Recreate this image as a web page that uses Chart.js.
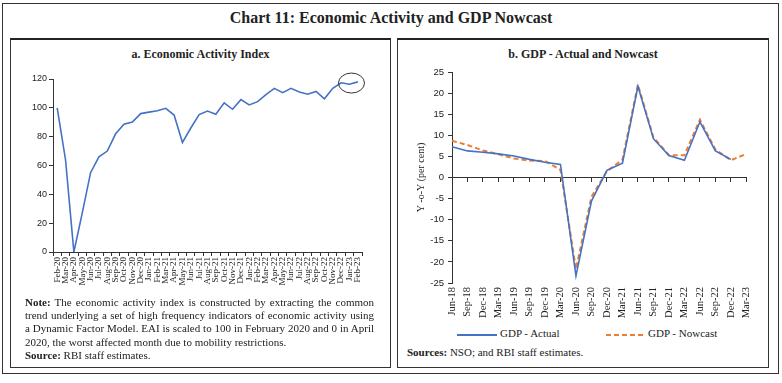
<!DOCTYPE html>
<html>
<head>
<meta charset="utf-8">
<script src="https://cdn.jsdelivr.net/npm/chart.js@4.4.1/dist/chart.umd.min.js"></script>
<style>
  body { margin: 0; background: #fff; }
  #wrap { position: relative; width: 782px; height: 383px; font-family: "Liberation Serif", serif; color: #222; }
  #frame { position: absolute; left: 2px; top: 3px; width: 775px; height: 369px; border: 1px solid #333; }
  #title { position: absolute; left: 0; top: 9px; width: 782px; text-align: center; font-weight: bold; font-size: 16px; }
  .panel { position: absolute; top: 38px; height: 327px; border: 1px solid #333; border-top: 2px solid #222; }
  .sub { position: absolute; left: 0; top: 7px; width: 100%; text-align: center; font-weight: bold; font-size: 12px; }
  canvas { position: absolute; }
  #note { position: absolute; left: 25px; top: 296px; width: 349px; font-size: 11px; line-height: 13.2px; text-align: justify; }
  #sources { position: absolute; left: 407px; top: 346px; font-size: 11px; }
  .leg { position: absolute; top: 327px; font-size: 11px; }
  .legline { position: absolute; height: 2px; top: 334px; }
</style>
</head>
<body>
<div id="wrap">
  <div id="frame"></div>
  <div id="title">Chart 11: Economic Activity and GDP Nowcast</div>
  <div class="panel" style="left:10px;width:379px;"><div class="sub">a. Economic Activity Index</div></div>
  <div class="panel" style="left:397px;width:370px;"><div class="sub">b. GDP - Actual and Nowcast</div></div>
  <canvas id="eaiChart" width="370" height="230" style="left:11px;top:70px;"></canvas>
  <canvas id="gdpChart" width="365" height="260" style="left:398px;top:62px;"></canvas>
  <div id="note"><b>Note:</b> The economic activity index is constructed by extracting the common trend underlying a set of high frequency indicators of economic activity using a Dynamic Factor Model. EAI is scaled to 100 in February 2020 and 0 in April 2020, the worst affected month due to mobility restrictions.<br><b>Source:</b> RBI staff estimates.</div>
  <div class="legline" id="legActual" style="left:457px;width:40px;"></div>
  <div class="leg" style="left:500px;">GDP - Actual</div>
  <div class="legline" id="legNowcast" style="left:606px;width:39px;"></div>
  <div class="leg" style="left:648px;">GDP - Nowcast</div>
  <div id="sources"><b>Sources:</b> NSO; and RBI staff estimates.</div>
</div>
<script>
// panel a: monthly economic activity index
const months = ['Feb-20', 'Mar-20', 'Apr-20', 'May-20', 'Jun-20', 'Jul-20', 'Aug-20', 'Sep-20', 'Oct-20', 'Nov-20', 'Dec-20',
  'Jan-21', 'Feb-21', 'Mar-21', 'Apr-21', 'May-21', 'Jun-21', 'Jul-21', 'Aug-21', 'Sep-21', 'Oct-21', 'Nov-21', 'Dec-21',
  'Jan-22', 'Feb-22', 'Mar-22', 'Apr-22', 'May-22', 'Jun-22', 'Jul-22', 'Aug-22', 'Sep-22', 'Oct-22', 'Nov-22', 'Dec-22',
  'Jan-23', 'Feb-23'];
const eaiValues = [100, 64, 0, 27, 55, 66, 70, 82, 88.6, 90.2, 96, 97, 98, 99.7, 95, 76, 86, 95.3, 97.8, 95.5, 103.5, 99, 105.7,
  102, 104.3, 109.2, 113.5, 110.5, 113.5, 111, 109.4, 111.4, 106.3, 113.5, 117.4, 116.4, 118];
const highlightMonths = ['Dec-22', 'Jan-23', 'Feb-23'];

// panel b: quarterly GDP growth, y-o-y per cent
const quarters = ['Jun-18', 'Sep-18', 'Dec-18', 'Mar-19', 'Jun-19', 'Sep-19', 'Dec-19', 'Mar-20', 'Jun-20', 'Sep-20',
  'Dec-20', 'Mar-21', 'Jun-21', 'Sep-21', 'Dec-21', 'Mar-22', 'Jun-22', 'Sep-22', 'Dec-22', 'Mar-23'];
const gdpActual = [7.3, 6.3, 6.0, 5.6, 5.1, 4.3, 3.6, 3.1, -23.3, -5.6, 1.7, 3.4, 21.6, 9.2, 5.2, 4.1, 13.2, 6.3, 4.3, null];
const gdpNowcast = [8.7, 7.7, 6.4, 5.5, 4.5, 4.0, 3.9, 1.8, -21.7, -4.6, 1.5, 4.2, 22.0, 9.5, 5.3, 5.3, 13.7, 6.6, 4.1, 5.6];

const blue = '#4472C4';
const orange = '#ED7D31';
const axisColor = '#333';
const serif = '"Liberation Serif", serif';
const sans = '"Liberation Sans", sans-serif';

document.getElementById('legActual').style.background = blue;
document.getElementById('legNowcast').style.background =
  'repeating-linear-gradient(to right, ' + orange + ' 0 5px, transparent 5px 8px)';

// ellipse round the latest readings
const highlightEllipse = {
  id: 'highlightEllipse',
  afterDatasetsDraw(chart) {
    const { ctx, scales: { x, y } } = chart;
    const idx = highlightMonths.map(m => months.indexOf(m));
    const xs = idx.map(i => x.getPixelForValue(i));
    const ys = idx.map(i => y.getPixelForValue(eaiValues[i]));
    const cx = (Math.min(...xs) + Math.max(...xs)) / 2 + 2;
    const cy = (Math.min(...ys) + Math.max(...ys)) / 2;
    ctx.save();
    ctx.beginPath();
    ctx.ellipse(cx, cy, 13, 10, 0, 0, Math.PI * 2);
    ctx.strokeStyle = '#333';
    ctx.lineWidth = 1;
    ctx.stroke();
    ctx.restore();
  }
};

new Chart(document.getElementById('eaiChart'), {
  type: 'line',
  data: {
    labels: months,
    datasets: [{
      data: eaiValues,
      borderColor: blue,
      borderWidth: 1.6,
      pointRadius: 0,
      tension: 0
    }]
  },
  options: {
    responsive: false,
    animation: false,
    layout: { padding: { top: 9, right: 19, left: 0, bottom: 0 } },
    plugins: { legend: { display: false }, tooltip: { enabled: false } },
    scales: {
      x: {
        offset: true,
        grid: { offset: true, drawOnChartArea: false, tickLength: 4, color: axisColor },
        border: { color: axisColor },
        ticks: { autoSkip: false, minRotation: 90, maxRotation: 90, padding: 1, color: '#222', font: { family: serif, size: 9 } },
        afterFit: s => { s.height = 48; }
      },
      y: {
        min: 0,
        max: 120,
        grid: { drawOnChartArea: false, tickLength: 4, color: axisColor },
        border: { color: axisColor },
        ticks: { stepSize: 20, padding: 2, color: '#222', font: { family: sans, size: 9 } },
        afterFit: s => { s.width = 42; }
      }
    }
  },
  plugins: [highlightEllipse]
});

new Chart(document.getElementById('gdpChart'), {
  type: 'line',
  data: {
    labels: quarters,
    datasets: [
      {
        label: 'GDP - Actual',
        data: gdpActual,
        borderColor: blue,
        borderWidth: 1.6,
        pointRadius: 0,
        tension: 0
      },
      {
        label: 'GDP - Nowcast',
        data: gdpNowcast,
        borderColor: orange,
        borderWidth: 2,
        borderDash: [5, 3],
        pointRadius: 0,
        tension: 0
      }
    ]
  },
  options: {
    responsive: false,
    animation: false,
    layout: { padding: { top: 10, right: 12, left: 0, bottom: 0 } },
    plugins: { legend: { display: false }, tooltip: { enabled: false } },
    scales: {
      x: {
        position: { y: 0 },
        offset: false,
        grid: { drawOnChartArea: false, tickLength: 4, color: axisColor },
        border: { color: axisColor },
        ticks: { display: false },
        afterFit: s => { s.height = 0; }
      },
      x2: {
        type: 'category',
        position: 'bottom',
        offset: false,
        grid: { display: false, drawTicks: false },
        border: { display: false },
        ticks: { autoSkip: false, minRotation: 90, maxRotation: 90, padding: 4, color: '#222', font: { family: serif, size: 10.5 } },
        afterFit: s => { s.height = 39; }
      },
      y: {
        min: -25,
        max: 25,
        grid: { drawOnChartArea: false, tickLength: 4, color: axisColor },
        border: { color: axisColor },
        ticks: { stepSize: 5, padding: 4, color: '#222', font: { family: sans, size: 9.5 } },
        title: { display: true, text: 'Y -o-Y (per cent)', color: '#222', font: { family: serif, size: 10 }, padding: { top: 17, bottom: 0 } },
        afterFit: s => { s.width = 54; }
      }
    }
  }
});
</script>
</body>
</html>
